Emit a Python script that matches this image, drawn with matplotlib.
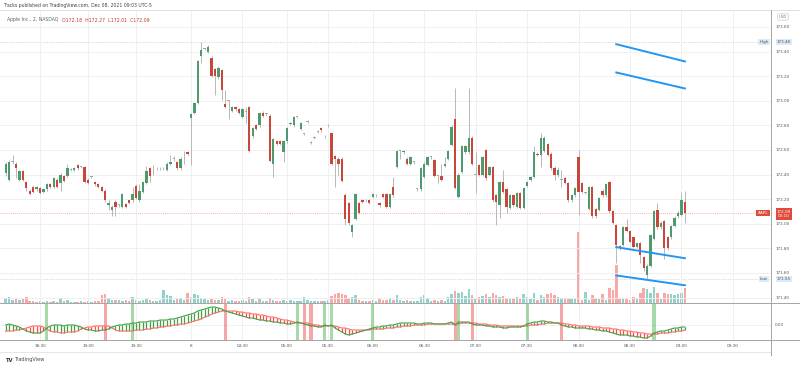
import matplotlib.pyplot as plt
from matplotlib.lines import Line2D
import numpy as np

# Apple Inc., 2-min bars (Dec 07 after-hours -> Dec 08 morning)
opens = [172.41, 172.36, 172.50, 172.49, 172.36, 172.43, 172.34, 172.27, 172.30, 172.28,
         172.29, 172.26, 172.28, 172.32, 172.30, 172.36, 172.33, 172.39, 172.39, 172.44,
         172.44, 172.48, 172.46, 172.46, 172.36, 172.38, 172.34, 172.32, 172.30, 172.27,
         172.15, 172.11, 172.18, 172.15, 172.14, 172.16, 172.19, 172.19, 172.31, 172.19,
         172.26, 172.33, 172.45, 172.45, 172.45, 172.45, 172.45, 172.44, 172.49, 172.53,
         172.50, 172.45, 172.58, 172.58, 172.86, 172.90, 172.98, 173.36, 173.42, 173.40,
         173.35, 173.26, 173.19, 173.25, 172.97, 173.00, 172.92, 172.95, 172.93, 172.87,
         172.91, 172.95, 172.71, 172.80, 172.80, 172.90, 172.89, 172.88, 172.49, 172.67,
         172.67, 172.58, 172.67, 172.81, 172.80, 172.87, 172.77, 172.73, 172.83, 172.66,
         172.70, 172.75, 172.78, 172.71, 172.80, 172.74, 172.55, 172.53, 172.53, 172.23,
         172.17, 171.93, 172.04, 172.17, 172.19, 172.19, 172.19, 172.22, 172.23, 172.17,
         172.24, 172.24, 172.14, 172.30, 172.46, 172.59, 172.58, 172.53, 172.49, 172.50,
         172.28, 172.28, 172.38, 172.48, 172.54, 172.52, 172.39, 172.39, 172.47, 172.53,
         172.64, 172.85, 172.22, 172.42, 172.58, 172.58, 172.70, 172.40, 172.48, 172.40,
         172.60, 172.40, 172.46, 172.23, 172.15, 172.34, 172.28, 172.13, 172.23, 172.14,
         172.25, 172.13, 172.31, 172.36, 172.38, 172.57, 172.56, 172.59, 172.65, 172.57,
         172.45, 172.40, 172.36, 172.37, 172.33, 172.19, 172.23, 172.54, 172.33, 172.25,
         172.12, 172.30, 172.12, 172.11, 172.27, 172.23, 172.34, 172.10, 171.99, 171.82,
         171.83, 171.97, 171.94, 171.89, 171.81, 171.84, 171.73, 171.58, 171.66, 171.88,
         172.11, 171.97, 172.02, 171.89, 171.89, 171.98, 172.06, 172.07, 172.18]
highs = [172.50, 172.52, 172.56, 172.50, 172.44, 172.44, 172.35, 172.28, 172.31, 172.31,
         172.30, 172.29, 172.33, 172.33, 172.38, 172.37, 172.41, 172.40, 172.49, 172.45,
         172.46, 172.49, 172.47, 172.47, 172.37, 172.39, 172.35, 172.33, 172.31, 172.28,
         172.19, 172.15, 172.19, 172.16, 172.25, 172.17, 172.20, 172.30, 172.32, 172.32,
         172.35, 172.47, 172.46, 172.48, 172.46, 172.46, 172.46, 172.50, 172.56, 172.55,
         172.51, 172.54, 172.59, 172.59, 172.90, 172.99, 173.33, 173.48, 173.43, 173.45,
         173.36, 173.27, 173.28, 173.26, 173.09, 173.01, 172.96, 172.96, 172.94, 172.94,
         172.95, 172.96, 172.79, 172.81, 172.91, 172.92, 172.90, 172.89, 172.70, 172.68,
         172.68, 172.68, 172.79, 172.83, 172.88, 172.88, 172.83, 172.74, 172.84, 172.67,
         172.71, 172.76, 172.79, 172.72, 172.81, 172.75, 172.56, 172.54, 172.54, 172.25,
         172.18, 172.00, 172.25, 172.18, 172.20, 172.20, 172.20, 172.25, 172.24, 172.18,
         172.25, 172.25, 172.25, 172.38, 172.60, 172.60, 172.60, 172.54, 172.55, 172.51,
         172.29, 172.46, 172.50, 172.55, 172.55, 172.53, 172.40, 172.49, 172.54, 172.60,
         172.80, 173.10, 172.41, 172.64, 172.64, 173.10, 172.71, 172.58, 172.49, 172.55,
         172.61, 172.47, 172.47, 172.24, 172.35, 172.44, 172.29, 172.24, 172.24, 172.26,
         172.26, 172.30, 172.35, 172.39, 172.63, 172.58, 172.74, 172.71, 172.66, 172.58,
         172.47, 172.46, 172.44, 172.38, 172.34, 172.24, 172.30, 172.60, 172.34, 172.26,
         172.31, 172.31, 172.13, 172.22, 172.28, 172.33, 172.35, 172.11, 172.00, 171.83,
         171.98, 172.04, 171.95, 171.90, 171.85, 171.85, 171.74, 171.67, 171.92, 172.11,
         172.17, 172.02, 172.03, 171.90, 171.99, 172.06, 172.10, 172.26, 172.27]
lows = [172.39, 172.35, 172.49, 172.37, 172.35, 172.35, 172.27, 172.23, 172.25, 172.27,
        172.24, 172.25, 172.27, 172.29, 172.29, 172.29, 172.27, 172.34, 172.38, 172.43,
        172.43, 172.44, 172.45, 172.33, 172.32, 172.37, 172.31, 172.29, 172.26, 172.18,
        172.11, 172.06, 172.06, 172.14, 172.13, 172.13, 172.16, 172.18, 172.20, 172.18,
        172.25, 172.32, 172.34, 172.40, 172.44, 172.44, 172.44, 172.43, 172.48, 172.51,
        172.44, 172.44, 172.49, 172.56, 172.48, 172.89, 172.97, 173.31, 173.41, 173.39,
        173.19, 173.05, 173.18, 173.01, 172.94, 172.85, 172.91, 172.92, 172.89, 172.86,
        172.82, 172.58, 172.70, 172.76, 172.79, 172.87, 172.88, 172.50, 172.38, 172.64,
        172.64, 172.50, 172.66, 172.80, 172.79, 172.86, 172.76, 172.72, 172.82, 172.65,
        172.69, 172.74, 172.75, 172.70, 172.79, 172.48, 172.30, 172.40, 172.34, 171.99,
        171.99, 171.89, 172.03, 172.08, 172.17, 172.18, 172.16, 172.21, 172.22, 172.14,
        172.21, 172.13, 172.13, 172.22, 172.45, 172.53, 172.57, 172.48, 172.48, 172.49,
        172.27, 172.27, 172.37, 172.47, 172.53, 172.38, 172.33, 172.35, 172.46, 172.52,
        172.63, 172.28, 172.21, 172.41, 172.57, 172.57, 172.48, 172.25, 172.39, 172.39,
        172.36, 172.39, 172.18, 171.99, 172.05, 172.25, 172.09, 172.12, 172.14, 172.13,
        172.12, 172.12, 172.30, 172.35, 172.37, 172.55, 172.46, 172.58, 172.55, 172.44,
        172.36, 172.38, 172.30, 172.32, 172.18, 172.18, 172.22, 172.07, 172.25, 172.24,
        172.11, 172.05, 172.05, 172.10, 172.22, 172.22, 172.09, 172.00, 171.68, 171.79,
        171.82, 171.93, 171.84, 171.80, 171.80, 171.68, 171.62, 171.55, 171.65, 171.87,
        171.96, 171.96, 171.71, 171.79, 171.88, 171.97, 172.05, 172.06, 172.01]
closes = [172.49, 172.50, 172.50, 172.45, 172.43, 172.36, 172.29, 172.24, 172.26, 172.30,
          172.25, 172.28, 172.32, 172.30, 172.37, 172.30, 172.40, 172.35, 172.45, 172.44,
          172.45, 172.45, 172.46, 172.34, 172.33, 172.38, 172.32, 172.30, 172.27, 172.19,
          172.17, 172.14, 172.14, 172.15, 172.24, 172.14, 172.17, 172.24, 172.21, 172.27,
          172.34, 172.43, 172.39, 172.45, 172.45, 172.45, 172.45, 172.49, 172.50, 172.53,
          172.45, 172.53, 172.58, 172.57, 172.89, 172.98, 173.32, 173.41, 173.42, 173.44,
          173.20, 173.20, 173.27, 173.09, 172.95, 173.00, 172.95, 172.93, 172.90, 172.93,
          172.91, 172.59, 172.78, 172.77, 172.90, 172.88, 172.89, 172.51, 172.69, 172.65,
          172.65, 172.67, 172.78, 172.82, 172.87, 172.87, 172.82, 172.73, 172.83, 172.66,
          172.70, 172.75, 172.76, 172.71, 172.80, 172.49, 172.53, 172.49, 172.35, 172.04,
          172.01, 171.99, 172.24, 172.09, 172.18, 172.19, 172.17, 172.24, 172.23, 172.15,
          172.22, 172.14, 172.24, 172.23, 172.59, 172.59, 172.59, 172.49, 172.54, 172.50,
          172.28, 172.45, 172.49, 172.54, 172.54, 172.39, 172.39, 172.36, 172.49, 172.59,
          172.79, 172.29, 172.40, 172.63, 172.63, 172.70, 172.49, 172.40, 172.40, 172.54,
          172.37, 172.46, 172.19, 172.18, 172.34, 172.26, 172.14, 172.23, 172.15, 172.25,
          172.13, 172.29, 172.34, 172.38, 172.58, 172.56, 172.70, 172.70, 172.56, 172.45,
          172.40, 172.44, 172.36, 172.33, 172.19, 172.23, 172.29, 172.26, 172.26, 172.25,
          172.30, 172.06, 172.06, 172.21, 172.23, 172.32, 172.10, 172.01, 171.83, 171.80,
          171.97, 171.94, 171.85, 171.81, 171.84, 171.75, 171.64, 171.66, 171.91, 172.10,
          171.97, 172.01, 171.80, 171.80, 171.98, 172.05, 172.09, 172.19, 172.09]
# volume in thousand shares
volumes = [10, 12, 6, 10, 6, 8, 12, 4, 4, 2,
           4, 2, 4, 2, 4, 2, 10, 4, 6, 2,
           2, 2, 4, 2, 4, 2, 4, 4, 16, 18,
           10, 6, 6, 6, 4, 6, 4, 12, 6, 4,
           6, 8, 6, 4, 4, 6, 26, 16, 14, 6,
           8, 10, 6, 20, 12, 18, 16, 10, 8, 6,
           8, 6, 6, 12, 8, 4, 6, 4, 4, 6,
           4, 12, 8, 4, 10, 4, 4, 10, 6, 4,
           4, 6, 4, 6, 4, 4, 4, 12, 6, 4,
           4, 4, 4, 4, 6, 14, 18, 20, 18, 16,
           10, 12, 16, 6, 4, 4, 4, 6, 4, 8,
           6, 6, 10, 6, 16, 6, 4, 6, 4, 4,
           4, 12, 16, 10, 4, 6, 4, 6, 4, 12,
           18, 24, 20, 22, 14, 28, 16, 8, 12, 14,
           18, 12, 20, 16, 12, 14, 10, 8, 10, 12,
           10, 18, 12, 8, 20, 6, 16, 12, 18, 20,
           16, 12, 10, 10, 10, 8, 10, 142, 6, 22,
           6, 16, 10, 8, 18, 6, 30, 26, 76, 10,
           10, 8, 6, 12, 10, 20, 30, 28, 20, 32,
           20, 8, 20, 18, 18, 16, 18, 20, 30]
# oscillator pane: fast / slow lines
fast = [0.00, 0.01, 0.00, -0.01, -0.02, -0.04, -0.06, -0.07, -0.08, -0.08,
        -0.08, -0.06, -0.03, -0.01, 0.00, 0.00, 0.00, -0.01, 0.00, 0.00,
        0.00, -0.01, -0.02, -0.04, -0.05, -0.05, -0.06, -0.06, -0.05, -0.05,
        -0.04, -0.02, -0.01, 0.00, 0.00, 0.01, 0.01, 0.02, 0.02, 0.03,
        0.03, 0.03, 0.04, 0.04, 0.04, 0.05, 0.05, 0.05, 0.06, 0.06,
        0.07, 0.08, 0.09, 0.10, 0.11, 0.12, 0.14, 0.15, 0.16, 0.17,
        0.18, 0.18, 0.17, 0.16, 0.14, 0.13, 0.12, 0.11, 0.10, 0.09,
        0.08, 0.07, 0.07, 0.06, 0.05, 0.05, 0.04, 0.04, 0.03, 0.03,
        0.02, 0.02, 0.01, 0.01, 0.02, 0.03, 0.02, 0.01, 0.00, -0.01,
        -0.01, -0.02, -0.02, 0.00, -0.01, 0.00, -0.03, -0.05, -0.07, -0.09,
        -0.10, -0.09, -0.08, -0.07, -0.06, -0.05, -0.04, -0.03, -0.02, -0.02,
        -0.01, -0.01, 0.00, 0.00, 0.01, 0.02, 0.02, 0.02, 0.02, 0.02,
        0.01, 0.01, 0.02, 0.02, 0.02, 0.01, 0.01, 0.01, 0.01, 0.02,
        0.03, 0.00, 0.03, 0.03, 0.03, 0.03, 0.01, 0.00, 0.00, 0.00,
        -0.01, -0.01, -0.02, -0.02, -0.02, -0.03, -0.03, -0.02, -0.02, -0.02,
        -0.02, -0.01, 0.01, 0.02, 0.03, 0.03, 0.04, 0.04, 0.03, 0.03,
        0.02, 0.02, 0.00, -0.01, -0.02, -0.02, -0.03, -0.03, -0.03, -0.03,
        -0.04, -0.04, -0.05, -0.05, -0.06, -0.06, -0.07, -0.08, -0.09, -0.10,
        -0.10, -0.10, -0.11, -0.11, -0.12, -0.12, -0.13, -0.13, -0.11, -0.08,
        -0.07, -0.06, -0.06, -0.05, -0.04, -0.03, -0.03, -0.02, -0.02]
slow = [-0.06, -0.06, -0.06, -0.05, -0.05, -0.04, -0.03, -0.02, -0.01, -0.01,
        -0.01, -0.02, -0.04, -0.06, -0.07, -0.07, -0.08, -0.08, -0.07, -0.07,
        -0.07, -0.06, -0.04, -0.03, -0.02, -0.02, -0.01, -0.01, -0.01, -0.01,
        -0.01, -0.03, -0.05, -0.06, -0.06, -0.06, -0.06, -0.06, -0.05, -0.05,
        -0.05, -0.04, -0.04, -0.03, -0.03, -0.02, -0.02, -0.01, -0.01, 0.00,
        0.00, 0.01, 0.01, 0.02, 0.03, 0.04, 0.05, 0.06, 0.08, 0.09,
        0.11, 0.12, 0.13, 0.14, 0.14, 0.14, 0.14, 0.14, 0.13, 0.13,
        0.12, 0.12, 0.11, 0.11, 0.10, 0.10, 0.09, 0.08, 0.08, 0.07,
        0.06, 0.05, 0.05, 0.04, 0.03, 0.02, 0.02, 0.02, 0.02, 0.01,
        0.00, 0.00, -0.01, -0.01, -0.01, -0.01, -0.01, -0.02, -0.03, -0.03,
        -0.04, -0.05, -0.05, -0.05, -0.05, -0.05, -0.05, -0.04, -0.04, -0.04,
        -0.04, -0.03, -0.03, -0.03, -0.02, -0.02, -0.01, -0.01, -0.01, 0.00,
        0.00, 0.00, 0.00, 0.01, 0.01, 0.01, 0.01, 0.01, 0.01, 0.01,
        0.01, 0.01, 0.01, 0.02, 0.02, 0.02, 0.02, 0.02, 0.01, 0.01,
        0.01, 0.00, 0.00, 0.00, -0.01, -0.01, -0.01, -0.01, -0.01, -0.01,
        -0.01, -0.01, -0.01, 0.00, 0.00, 0.00, 0.01, 0.01, 0.02, 0.02,
        0.02, 0.02, 0.02, 0.01, 0.01, 0.00, 0.00, -0.01, -0.01, -0.01,
        -0.01, -0.02, -0.02, -0.02, -0.03, -0.03, -0.03, -0.04, -0.04, -0.05,
        -0.05, -0.06, -0.06, -0.07, -0.07, -0.08, -0.08, -0.09, -0.09, -0.09,
        -0.09, -0.08, -0.08, -0.08, -0.07, -0.07, -0.06, -0.06, -0.05]
sig_up = [12, 37, 85, 93, 95, 107, 132, 152, 189]
sig_down = [29, 64, 87, 89, 131, 136, 162]

time_ticks = [10, 24, 38, 54, 69, 82, 94, 107, 122, 137, 152, 167, 182, 197, 212]
time_labels = ['18:30', '19:00', '19:30', '8', '04:30', '05:00', '05:30', '06:00',
               '06:30', '07:00', '07:30', '08:00', '08:30', '09:00', '09:30']
price_ticks = [171.40, 171.60, 171.80, 172.00, 172.20, 172.40, 172.60, 172.80,
               173.00, 173.20, 173.40, 173.60]
# user drawn trend lines: (bar0, price0, bar1, price1)
trend_lines = [(178, 173.46, 198, 173.32), (178, 173.23, 198, 173.10),
               (178, 171.81, 198, 171.72), (178, 171.58, 198, 171.50)]

UP, DN = '#4e9a6e', '#c8473b'
VUP, VDN = '#92d2cc', '#f7a9a7'
W, H = 800, 368


def fx(px):
    return px / W


def fy(py):
    return 1 - py / H


o, h, l, c = map(np.array, (opens, highs, lows, closes))
x = np.arange(len(o))
up = c >= o

fig = plt.figure(figsize=(8, 3.68), dpi=100)
ax = fig.add_axes([0, fy(303), fx(771), (303 - 10) / H])
axi = fig.add_axes([0, fy(340), fx(771), (340 - 303) / H], sharex=ax)

# volume overlay
axv = ax.twinx()
axv.bar(x, volumes, width=0.72, color=np.where(up, VUP, VDN), lw=0)
axv.set_ylim(0, 586)
axv.set_yticks([])
for s in axv.spines.values():
    s.set_visible(False)
ax.set_zorder(axv.get_zorder() + 1)
ax.patch.set_visible(False)

# candles
ax.vlines(x, l, h, color='#b8b8b8', lw=0.7, zorder=2)
body_lo = np.minimum(o, c)
body_h = np.maximum(np.abs(c - o), 0.007)
cols = [('#a8a8a8' if oo == cc else (UP if u else DN)) for oo, cc, u in zip(o, c, up)]
ax.bar(x, body_h, bottom=body_lo, width=0.68, color=cols, lw=0, zorder=3)

ax.axhline(h.max(), color='#bdbdbd', lw=0.5, ls=(0, (1, 1.5)), zorder=1)
ax.axhline(l.min(), color='#bdbdbd', lw=0.5, ls=(0, (1, 1.5)), zorder=1)
ax.axhline(c[-1], color='#f19a92', lw=0.6, ls=(0, (1, 1.5)), zorder=1)

for x0, y0, x1, y1 in trend_lines:
    ax.plot([x0, x1], [y0, y1], color='#2196f3', lw=1.4, zorder=4)

ax.set_xlim(-1.66, 223.1)
ax.set_ylim(171.356, 173.738)
ax.set_yticks(price_ticks)
ax.set_yticklabels([f'{p:.2f}' for p in price_ticks])
ax.yaxis.tick_right()
ax.tick_params(axis='y', length=0, pad=3, labelsize=3, labelcolor='#555555')
ax.tick_params(axis='x', length=0, labelbottom=False)
ax.set_xticks(time_ticks)
ax.grid(color='#eeeeee', lw=0.6)
for s in ax.spines.values():
    s.set_visible(False)

# oscillator pane
f, sl = np.array(fast), np.array(slow)
for i in sig_up:
    axi.axvspan(i - 0.45, i + 0.45, color='#6cc070', alpha=0.6, lw=0)
for i in sig_down:
    axi.axvspan(i - 0.45, i + 0.45, color='#f26b6b', alpha=0.6, lw=0)
axi.vlines(x, f, sl, colors=np.where(f >= sl, '#43a047', '#ff4d4d'), lw=0.9)
axi.plot(x, sl, color='#ff6b6b', lw=0.8)
axi.plot(x, f, color='#43a047', lw=0.8)
axi.set_ylim(-0.15, 0.22)
axi.set_yticks([0])
axi.set_yticklabels(['0.00'])
axi.yaxis.tick_right()
axi.tick_params(axis='y', length=0, pad=3, labelsize=3, labelcolor='#555555')
axi.set_xticks(time_ticks)
axi.set_xticklabels(time_labels)
axi.tick_params(axis='x', length=0, pad=3, labelsize=3, labelcolor='#555555')
axi.grid(color='#eeeeee', lw=0.6)
axi.set_axisbelow(True)
for s in axi.spines.values():
    s.set_visible(False)

# frame lines
for xs, ys, col in [([0, 1], [fy(10), fy(10)], '#e0e0e0'),
                    ([0, 1], [fy(303), fy(303)], '#a5a5a5'),
                    ([0, 1], [fy(340), fy(340)], '#a5a5a5'),
                    ([0, fx(771)], [fy(352), fy(352)], '#e6e6e6'),
                    ([fx(771), fx(771)], [fy(10), fy(355)], '#a5a5a5')]:
    fig.add_artist(Line2D(xs, ys, color=col, lw=0.7, transform=fig.transFigure))

# texts
fig.text(fx(3), fy(5), 'Tracks published on TradingView.com, Dec 08, 2021 09:03 UTC-5',
         fontsize=3.3, color='#444444', va='center')
fig.text(fx(7), fy(20), 'Apple Inc., 2, NASDAQ', fontsize=3.3, color='#666666', va='center')
fig.text(fx(62), fy(20), f'O{o[-1]:.2f}  H{h[-1]:.2f}  L{l[-1]:.2f}  C{c[-1]:.2f}',
         fontsize=3.3, color='#c0392b', va='center')
fig.text(fx(5), fy(360), 'TV', fontsize=3.8, fontweight='bold', color='#333333', va='center')
fig.text(fx(14), fy(360), 'TradingView', fontsize=3.6, color='#444444', va='center')

fig.text(fx(783), fy(17), 'USD', fontsize=2.8, color='#777777', ha='center', va='center',
         bbox=dict(boxstyle='round,pad=0.3', fc='white', ec='#cccccc', lw=0.5))
tag = dict(fontsize=3, ha='center', va='center')
for label, val, yy in [('High', h.max(), 42), ('Low', l.min(), 279)]:
    fig.text(fx(764), fy(yy), label, color='#555555',
             bbox=dict(boxstyle='square,pad=0.3', fc='#dce9f7', ec='none'), **tag)
    fig.text(fx(784), fy(yy), f'{val:.2f}', color='#555555',
             bbox=dict(boxstyle='square,pad=0.3', fc='#dce9f7', ec='none'), **tag)
fig.text(fx(763), fy(213), 'AAPL', color='white',
         bbox=dict(boxstyle='square,pad=0.3', fc='#e04b3c', ec='none'), **tag)
fig.text(fx(784), fy(214), f'{c[-1]:.2f}\n00:10', color='white', linespacing=1.2,
         bbox=dict(boxstyle='square,pad=0.3', fc='#e04b3c', ec='none'), **tag)

fig.savefig('out.png', dpi=100)
